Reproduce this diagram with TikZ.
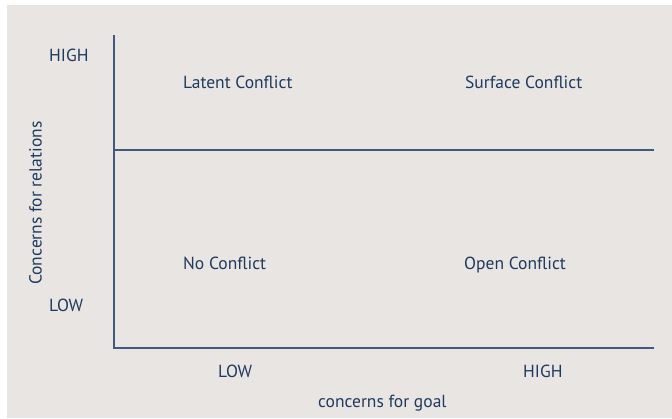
\documentclass[tikz,border=0pt]{standalone}
\usepackage{fontspec}
\setmainfont{PT Sans}
\usepackage{xcolor}
\definecolor{navy}{HTML}{1F3A5F}
\definecolor{axisblue}{HTML}{3F5A7E}
\definecolor{paper}{HTML}{E9E5E2}

\begin{document}
\begin{tikzpicture}[x=1pt,y=-1pt,
  lbl/.style={text=navy, font=\fontsize{17.5}{20}\selectfont, inner sep=0pt, anchor=base west},
  axis/.style={draw=axisblue, line width=1.7pt}]
\useasboundingbox (0,0) rectangle (672,418);
\fill[paper] (7,5) rectangle (672,418);
\coordinate (top) at (114,35);
\coordinate (origin) at (114,348);
\coordinate (xend) at (654,348);
\coordinate (midl) at (114,150);
\coordinate (midr) at (654,150);
\draw[axis] (top) -- (origin) -- (xend);
\draw[axis] (midl) -- (midr);
% axis labels
\node[lbl] (yhigh) at (49, 61.5) {HIGH};
\node[lbl] (ylow) at (49, 311) {LOW};
\node[lbl] (xlow) at (218, 377) {LOW};
\node[lbl] (xhigh) at (523, 377) {HIGH};
\node[lbl] (xtitle) at (318, 407.5) {concerns for goal};
\node[lbl, rotate=90] (ytitle) at (41.7, 285) {Concerns for relations};
% quadrants
\node[lbl] (latent) at (183, 88) {Latent Conflict};
\node[lbl] (surface) at (465, 88) {Surface Conflict};
\node[lbl] (none) at (183, 269) {No Conflict};
\node[lbl] (open) at (464, 269) {Open Conflict};
\end{tikzpicture}
\end{document}
